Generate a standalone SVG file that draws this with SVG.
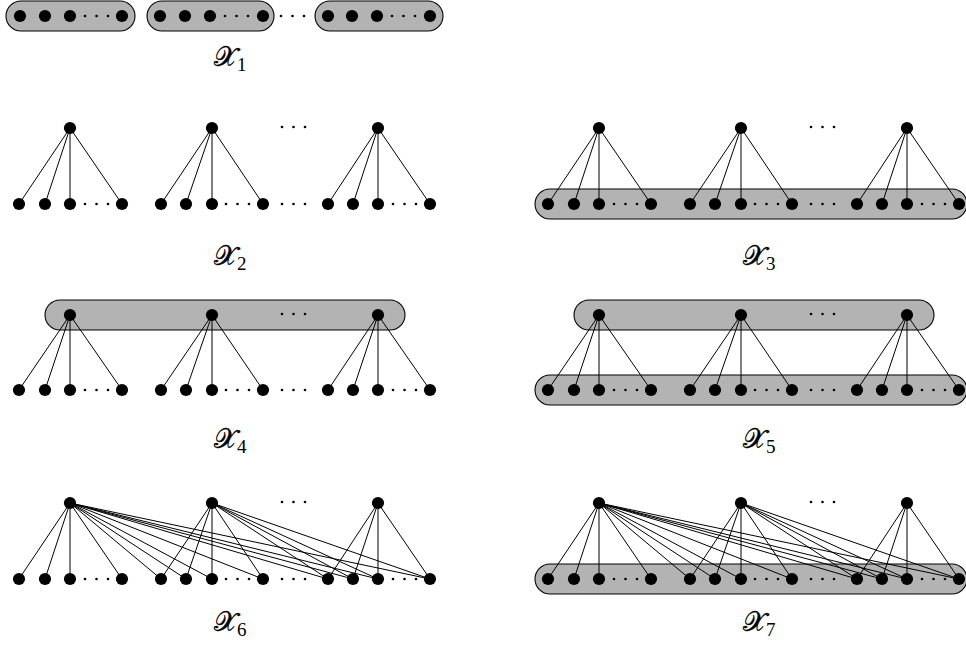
<svg xmlns="http://www.w3.org/2000/svg" xmlns:xlink="http://www.w3.org/1999/xlink" width="966" height="647" viewBox="0 0 966 647">
<style>
.bar{fill:#b3b3b3;stroke:#000;stroke-width:1.1}
.e{fill:none;stroke:#000;stroke-width:1}
.el{fill:#000}
.lbl{font-family:"DejaVu Serif","Liberation Serif",serif;font-size:27px;fill:#000;stroke:#000;stroke-width:0.4}
.sub{font-family:"Liberation Serif",serif;font-size:19px;stroke:none}
</style>
<defs>
<circle id="d" r="6.1" fill="#000"/>
<g id="e3"><circle cx="0" cy="0" r="1.3"/><circle cx="11.5" cy="0" r="1.3"/><circle cx="23" cy="0" r="1.3"/></g>
</defs>
<rect width="966" height="647" fill="#fff"/>

<!-- X1 -->
<g id="x1">
<g id="x1-bar1"><rect class="bar" x="6" y="1" width="129" height="30" rx="15"/></g>
<g id="x1-bar2"><rect class="bar" x="147" y="1" width="127" height="30" rx="15"/></g>
<g id="x1-bar3"><rect class="bar" x="315" y="1" width="128" height="30" rx="15"/></g>
<g id="x1-n1"><use href="#d" x="20" y="16"/></g><g id="x1-n2"><use href="#d" x="45" y="16"/></g><g id="x1-n3"><use href="#d" x="70" y="16"/></g><g id="x1-n4"><use href="#d" x="122" y="16"/></g>
<g id="x1-n5"><use href="#d" x="160" y="16"/></g><g id="x1-n6"><use href="#d" x="185" y="16"/></g><g id="x1-n7"><use href="#d" x="210" y="16"/></g><g id="x1-n8"><use href="#d" x="263" y="16"/></g>
<g id="x1-n9"><use href="#d" x="328" y="16"/></g><g id="x1-n10"><use href="#d" x="352" y="16"/></g><g id="x1-n11"><use href="#d" x="377" y="16"/></g><g id="x1-n12"><use href="#d" x="430" y="16"/></g>
<g class="el"><use href="#e3" x="85" y="16"/><use href="#e3" x="225" y="16"/><use href="#e3" x="281" y="16"/><use href="#e3" x="392" y="16"/></g>
<text class="lbl" x="214" y="66">𝒳<tspan class="sub" dy="5">1</tspan></text>
</g>

<!-- X2 -->
<g id="x2">
<g id="x2-edges"><path class="e" d="M70,128L19,204M70,128L45,204M70,128L70,204M70,128L122,204M212,128L161,204M212,128L186,204M212,128L212,204M212,128L263,204M378,128L328,204M378,128L353,204M378,128L378,204M378,128L430,204"/></g>
<g id="x2-t1"><use href="#d" x="70" y="128"/></g><g id="x2-t2"><use href="#d" x="212" y="128"/></g><g id="x2-t3"><use href="#d" x="378" y="128"/></g>
<g id="x2-b1"><use href="#d" x="19" y="204"/></g><g id="x2-b2"><use href="#d" x="45" y="204"/></g><g id="x2-b3"><use href="#d" x="70" y="204"/></g><g id="x2-b4"><use href="#d" x="122" y="204"/></g>
<g id="x2-b5"><use href="#d" x="161" y="204"/></g><g id="x2-b6"><use href="#d" x="186" y="204"/></g><g id="x2-b7"><use href="#d" x="212" y="204"/></g><g id="x2-b8"><use href="#d" x="263" y="204"/></g>
<g id="x2-b9"><use href="#d" x="328" y="204"/></g><g id="x2-b10"><use href="#d" x="353" y="204"/></g><g id="x2-b11"><use href="#d" x="378" y="204"/></g><g id="x2-b12"><use href="#d" x="430" y="204"/></g>
<g class="el"><use href="#e3" x="282" y="127"/><use href="#e3" x="85" y="204"/><use href="#e3" x="226" y="204"/><use href="#e3" x="282" y="204"/><use href="#e3" x="393" y="204"/></g>
<text class="lbl" x="214" y="265">𝒳<tspan class="sub" dy="5">2</tspan></text>
</g>

<!-- X3 -->
<g id="x3">
<g id="x3-bar"><rect class="bar" x="535" y="189" width="432" height="30" rx="15"/></g>
<g id="x3-edges"><path class="e" d="M599,128L548,204M599,128L574,204M599,128L599,204M599,128L651,204M741,128L690,204M741,128L715,204M741,128L741,204M741,128L792,204M907,128L857,204M907,128L882,204M907,128L907,204M907,128L959,204"/></g>
<g id="x3-t1"><use href="#d" x="599" y="128"/></g><g id="x3-t2"><use href="#d" x="741" y="128"/></g><g id="x3-t3"><use href="#d" x="907" y="128"/></g>
<g id="x3-b1"><use href="#d" x="548" y="204"/></g><g id="x3-b2"><use href="#d" x="574" y="204"/></g><g id="x3-b3"><use href="#d" x="599" y="204"/></g><g id="x3-b4"><use href="#d" x="651" y="204"/></g>
<g id="x3-b5"><use href="#d" x="690" y="204"/></g><g id="x3-b6"><use href="#d" x="715" y="204"/></g><g id="x3-b7"><use href="#d" x="741" y="204"/></g><g id="x3-b8"><use href="#d" x="792" y="204"/></g>
<g id="x3-b9"><use href="#d" x="857" y="204"/></g><g id="x3-b10"><use href="#d" x="882" y="204"/></g><g id="x3-b11"><use href="#d" x="907" y="204"/></g><g id="x3-b12"><use href="#d" x="959" y="204"/></g>
<g class="el"><use href="#e3" x="811" y="127"/><use href="#e3" x="614" y="204"/><use href="#e3" x="755" y="204"/><use href="#e3" x="811" y="204"/><use href="#e3" x="922" y="204"/></g>
<text class="lbl" x="743" y="265">𝒳<tspan class="sub" dy="5">3</tspan></text>
</g>

<!-- X4 -->
<g id="x4">
<g id="x4-bar"><rect class="bar" x="45" y="300" width="360" height="30" rx="15"/></g>
<g id="x4-edges"><path class="e" d="M70,315L19,390M70,315L45,390M70,315L70,390M70,315L122,390M212,315L161,390M212,315L186,390M212,315L212,390M212,315L263,390M378,315L328,390M378,315L353,390M378,315L378,390M378,315L430,390"/></g>
<g id="x4-t1"><use href="#d" x="70" y="315"/></g><g id="x4-t2"><use href="#d" x="212" y="315"/></g><g id="x4-t3"><use href="#d" x="378" y="315"/></g>
<g id="x4-b1"><use href="#d" x="19" y="390"/></g><g id="x4-b2"><use href="#d" x="45" y="390"/></g><g id="x4-b3"><use href="#d" x="70" y="390"/></g><g id="x4-b4"><use href="#d" x="122" y="390"/></g>
<g id="x4-b5"><use href="#d" x="161" y="390"/></g><g id="x4-b6"><use href="#d" x="186" y="390"/></g><g id="x4-b7"><use href="#d" x="212" y="390"/></g><g id="x4-b8"><use href="#d" x="263" y="390"/></g>
<g id="x4-b9"><use href="#d" x="328" y="390"/></g><g id="x4-b10"><use href="#d" x="353" y="390"/></g><g id="x4-b11"><use href="#d" x="378" y="390"/></g><g id="x4-b12"><use href="#d" x="430" y="390"/></g>
<g class="el"><use href="#e3" x="282" y="314"/><use href="#e3" x="85" y="390"/><use href="#e3" x="226" y="390"/><use href="#e3" x="282" y="390"/><use href="#e3" x="393" y="390"/></g>
<text class="lbl" x="214" y="448">𝒳<tspan class="sub" dy="5">4</tspan></text>
</g>

<!-- X5 -->
<g id="x5">
<g id="x5-bar-top"><rect class="bar" x="574" y="300" width="360" height="30" rx="15"/></g>
<g id="x5-bar-bottom"><rect class="bar" x="535" y="375" width="432" height="30" rx="15"/></g>
<g id="x5-edges"><path class="e" d="M599,315L548,390M599,315L574,390M599,315L599,390M599,315L651,390M741,315L690,390M741,315L715,390M741,315L741,390M741,315L792,390M907,315L857,390M907,315L882,390M907,315L907,390M907,315L959,390"/></g>
<g id="x5-t1"><use href="#d" x="599" y="315"/></g><g id="x5-t2"><use href="#d" x="741" y="315"/></g><g id="x5-t3"><use href="#d" x="907" y="315"/></g>
<g id="x5-b1"><use href="#d" x="548" y="390"/></g><g id="x5-b2"><use href="#d" x="574" y="390"/></g><g id="x5-b3"><use href="#d" x="599" y="390"/></g><g id="x5-b4"><use href="#d" x="651" y="390"/></g>
<g id="x5-b5"><use href="#d" x="690" y="390"/></g><g id="x5-b6"><use href="#d" x="715" y="390"/></g><g id="x5-b7"><use href="#d" x="741" y="390"/></g><g id="x5-b8"><use href="#d" x="792" y="390"/></g>
<g id="x5-b9"><use href="#d" x="857" y="390"/></g><g id="x5-b10"><use href="#d" x="882" y="390"/></g><g id="x5-b11"><use href="#d" x="907" y="390"/></g><g id="x5-b12"><use href="#d" x="959" y="390"/></g>
<g class="el"><use href="#e3" x="811" y="314"/><use href="#e3" x="614" y="390"/><use href="#e3" x="755" y="390"/><use href="#e3" x="811" y="390"/><use href="#e3" x="922" y="390"/></g>
<text class="lbl" x="743" y="448">𝒳<tspan class="sub" dy="5">5</tspan></text>
</g>

<!-- X6 -->
<g id="x6">
<g id="x6-edges"><path class="e" d="M70,503L19,579M70,503L45,579M70,503L70,579M70,503L122,579M70,503L161,579M70,503L186,579M70,503L212,579M70,503L263,579M70,503L328,579M70,503L353,579M70,503L378,579M70,503L430,579M212,503L161,579M212,503L186,579M212,503L212,579M212,503L263,579M212,503L328,579M212,503L353,579M212,503L378,579M212,503L430,579M378,503L328,579M378,503L353,579M378,503L378,579M378,503L430,579"/></g>
<g id="x6-t1"><use href="#d" x="70" y="503"/></g><g id="x6-t2"><use href="#d" x="212" y="503"/></g><g id="x6-t3"><use href="#d" x="378" y="503"/></g>
<g id="x6-b1"><use href="#d" x="19" y="579"/></g><g id="x6-b2"><use href="#d" x="45" y="579"/></g><g id="x6-b3"><use href="#d" x="70" y="579"/></g><g id="x6-b4"><use href="#d" x="122" y="579"/></g>
<g id="x6-b5"><use href="#d" x="161" y="579"/></g><g id="x6-b6"><use href="#d" x="186" y="579"/></g><g id="x6-b7"><use href="#d" x="212" y="579"/></g><g id="x6-b8"><use href="#d" x="263" y="579"/></g>
<g id="x6-b9"><use href="#d" x="328" y="579"/></g><g id="x6-b10"><use href="#d" x="353" y="579"/></g><g id="x6-b11"><use href="#d" x="378" y="579"/></g><g id="x6-b12"><use href="#d" x="430" y="579"/></g>
<g class="el"><use href="#e3" x="282" y="502"/><use href="#e3" x="85" y="579"/><use href="#e3" x="226" y="579"/><use href="#e3" x="282" y="579"/><use href="#e3" x="393" y="579"/></g>
<text class="lbl" x="214" y="631">𝒳<tspan class="sub" dy="5">6</tspan></text>
</g>

<!-- X7 -->
<g id="x7">
<g id="x7-bar"><rect class="bar" x="535" y="564" width="432" height="30" rx="15"/></g>
<g id="x7-edges"><path class="e" d="M599,503L548,579M599,503L574,579M599,503L599,579M599,503L651,579M599,503L690,579M599,503L715,579M599,503L741,579M599,503L792,579M599,503L857,579M599,503L882,579M599,503L907,579M599,503L959,579M741,503L690,579M741,503L715,579M741,503L741,579M741,503L792,579M741,503L857,579M741,503L882,579M741,503L907,579M741,503L959,579M907,503L857,579M907,503L882,579M907,503L907,579M907,503L959,579"/></g>
<g id="x7-t1"><use href="#d" x="599" y="503"/></g><g id="x7-t2"><use href="#d" x="741" y="503"/></g><g id="x7-t3"><use href="#d" x="907" y="503"/></g>
<g id="x7-b1"><use href="#d" x="548" y="579"/></g><g id="x7-b2"><use href="#d" x="574" y="579"/></g><g id="x7-b3"><use href="#d" x="599" y="579"/></g><g id="x7-b4"><use href="#d" x="651" y="579"/></g>
<g id="x7-b5"><use href="#d" x="690" y="579"/></g><g id="x7-b6"><use href="#d" x="715" y="579"/></g><g id="x7-b7"><use href="#d" x="741" y="579"/></g><g id="x7-b8"><use href="#d" x="792" y="579"/></g>
<g id="x7-b9"><use href="#d" x="857" y="579"/></g><g id="x7-b10"><use href="#d" x="882" y="579"/></g><g id="x7-b11"><use href="#d" x="907" y="579"/></g><g id="x7-b12"><use href="#d" x="959" y="579"/></g>
<g class="el"><use href="#e3" x="811" y="502"/><use href="#e3" x="614" y="579"/><use href="#e3" x="755" y="579"/><use href="#e3" x="811" y="579"/><use href="#e3" x="922" y="579"/></g>
<text class="lbl" x="743" y="631">𝒳<tspan class="sub" dy="5">7</tspan></text>
</g>
</svg>
